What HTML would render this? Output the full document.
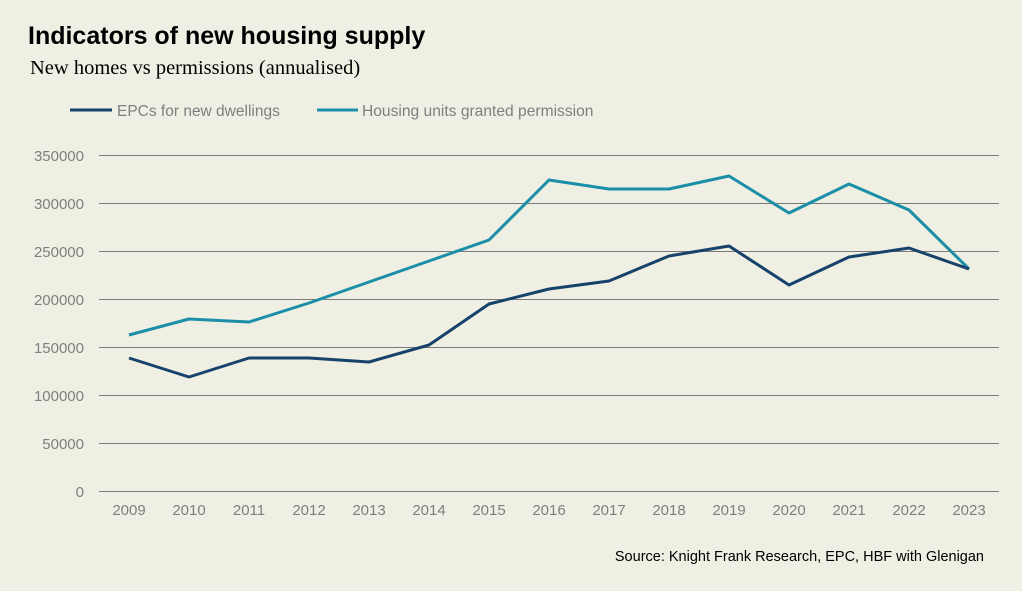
<!DOCTYPE html>
<html><head><meta charset="utf-8"><style>
html,body{margin:0;padding:0;background:#f0efe3;}
body{width:1022px;height:591px;overflow:hidden;position:relative;}
</style></head><body>
<svg width="1022" height="591" xmlns="http://www.w3.org/2000/svg" style="position:absolute;left:0;top:0">
<rect width="1022" height="591" fill="#f0efe3"/>
<text x="28" y="44" font-family="Liberation Sans, sans-serif" font-size="25" font-weight="bold" fill="#000">Indicators of new housing supply</text>
<text x="30" y="74" font-family="Liberation Serif, serif" font-size="20.5" fill="#000">New homes vs permissions (annualised)</text>
<line x1="70" y1="110" x2="112" y2="110" stroke="#17426b" stroke-width="3"/>
<text x="117" y="116" font-family="Liberation Sans, sans-serif" font-size="15.5" fill="#7f7f7f">EPCs for new dwellings</text>
<line x1="317" y1="110" x2="358" y2="110" stroke="#1b8fa8" stroke-width="3"/>
<text x="362" y="116" font-family="Liberation Sans, sans-serif" font-size="15.6" fill="#7f7f7f">Housing units granted permission</text>
<g stroke="#7a7a7a" stroke-width="1">
<line x1="99" y1="155.5" x2="999" y2="155.5"/>
<line x1="99" y1="203.5" x2="999" y2="203.5"/>
<line x1="99" y1="251.5" x2="999" y2="251.5"/>
<line x1="99" y1="299.5" x2="999" y2="299.5"/>
<line x1="99" y1="347.5" x2="999" y2="347.5"/>
<line x1="99" y1="395.5" x2="999" y2="395.5"/>
<line x1="99" y1="443.5" x2="999" y2="443.5"/>
<line x1="99" y1="491.5" x2="999" y2="491.5"/>
</g>
<g font-family="Liberation Sans, sans-serif" font-size="15" fill="#7f7f7f" text-anchor="end">
<text x="84" y="161">350000</text><text x="84" y="209">300000</text><text x="84" y="257">250000</text>
<text x="84" y="305">200000</text><text x="84" y="353">150000</text><text x="84" y="401">100000</text>
<text x="84" y="449">50000</text><text x="84" y="497">0</text>
</g>
<g font-family="Liberation Sans, sans-serif" font-size="15" fill="#7f7f7f" text-anchor="middle">
<text x="129" y="515">2009</text><text x="189" y="515">2010</text><text x="249" y="515">2011</text><text x="309" y="515">2012</text>
<text x="369" y="515">2013</text><text x="429" y="515">2014</text><text x="489" y="515">2015</text><text x="549" y="515">2016</text>
<text x="609" y="515">2017</text><text x="669" y="515">2018</text><text x="729" y="515">2019</text><text x="789" y="515">2020</text>
<text x="849" y="515">2021</text><text x="909" y="515">2022</text><text x="969" y="515">2023</text>
</g>
<polyline fill="none" stroke="#1b8fa8" stroke-width="3" stroke-linejoin="round" points="129,335 189,319 249,322 309,303 369,282 429,261 489,240 549,180 609,189 669,189 729,176 789,213 849,184 909,210 969,269"/>
<polyline fill="none" stroke="#17426b" stroke-width="3" stroke-linejoin="round" points="129,358 189,377 249,358 309,358 369,362 429,345 489,304 549,289 609,281 669,256 729,246 789,285 849,257 909,248 969,269"/>
<text x="984" y="561" text-anchor="end" font-family="Liberation Sans, sans-serif" font-size="14.5" fill="#000">Source: Knight Frank Research, EPC, HBF with Glenigan</text>
</svg>
</body></html>
